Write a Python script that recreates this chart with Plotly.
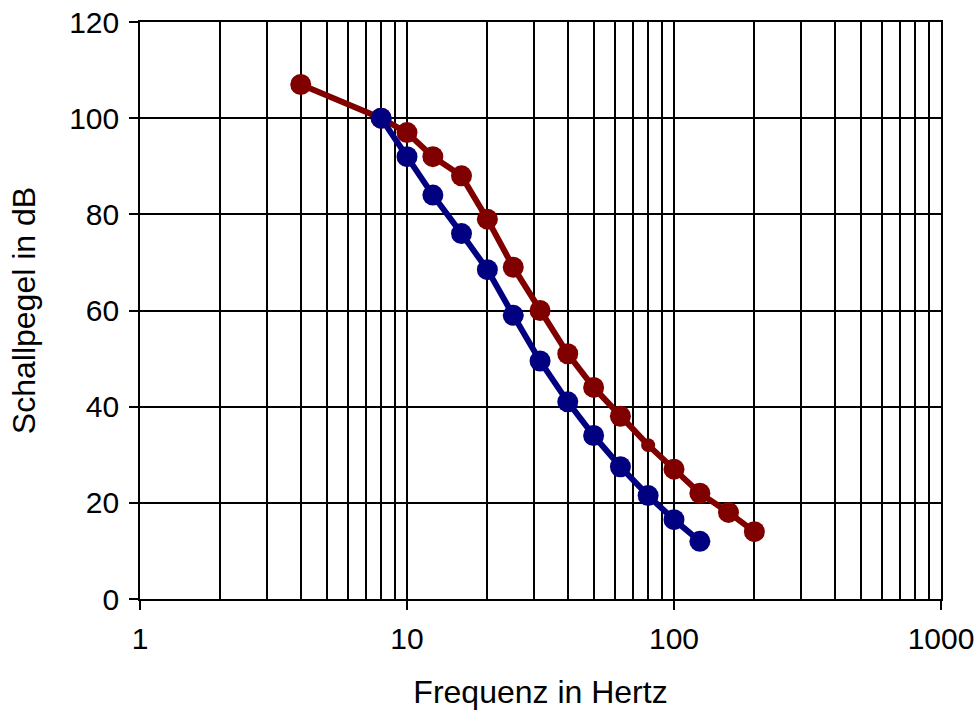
import plotly.graph_objects as go

# Data
freq_red = [4, 8, 10, 12.5, 16, 20, 25, 31.5, 40, 50, 63, 80, 100, 125, 160, 200]
level_red = [107, 100, 97, 92, 88, 79, 69, 60, 51, 44, 38, 32, 27, 22, 18, 14]
freq_blue = [8, 10, 12.5, 16, 20, 25, 31.5, 40, 50, 63, 80, 100, 125]
level_blue = [100, 92, 84, 76, 68.5, 59, 49.5, 41, 34, 27.5, 21.5, 16.5, 12]
x_ticks = [1, 10, 100, 1000]
x_minor = [m * d for d in (1, 10, 100) for m in range(2, 10)]
y_ticks = [0, 20, 40, 60, 80, 100, 120]

red_sizes = [14 if f == 80 else 21 for f in freq_red]

FONT = "Liberation Sans, Arial, sans-serif"

fig = go.Figure()
fig.add_trace(go.Scatter(
    x=freq_red, y=level_red, mode="lines+markers",
    line=dict(color="#800000", width=6),
    marker=dict(color="#800000", size=red_sizes, opacity=1, line=dict(width=0)),
    showlegend=False,
))
fig.add_trace(go.Scatter(
    x=freq_blue, y=level_blue, mode="lines+markers",
    line=dict(color="#000080", width=6),
    marker=dict(color="#000080", size=21, opacity=1, line=dict(width=0)),
    showlegend=False,
))

fig.update_layout(
    width=976, height=714,
    margin=dict(l=140, r=35, t=22, b=115),
    paper_bgcolor="white", plot_bgcolor="white",
    font=dict(family=FONT, size=30, color="black"),
    xaxis=dict(
        type="log", range=[0, 3], automargin=False,
        tickvals=x_ticks, ticktext=[str(v) for v in x_ticks],
        ticks="outside", ticklen=9, tickcolor="black", tickwidth=1.5,
        showgrid=True, gridcolor="black", gridwidth=1.6,
        minor=dict(tickvals=x_minor, showgrid=True, gridcolor="black", gridwidth=1.6, ticks=""),
        showline=True, linecolor="black", linewidth=1.6, mirror=True,
        zeroline=False,
        ticklabelstandoff=3,
        tickfont=dict(size=30),
        title=dict(text="Frequenz in Hertz", font=dict(size=32), standoff=27),
    ),
    yaxis=dict(
        range=[0, 120], tickvals=y_ticks, automargin=False,
        ticks="outside", ticklen=9, tickcolor="black", tickwidth=1.5,
        showgrid=True, gridcolor="black", gridwidth=1.6,
        showline=True, linecolor="black", linewidth=1.6, mirror=True,
        zeroline=False,
        ticklabelstandoff=4,
        tickfont=dict(size=30),
        title=dict(text="Schallpegel in dB", font=dict(size=32), standoff=24),
    ),
)

fig.write_html("out.html")
